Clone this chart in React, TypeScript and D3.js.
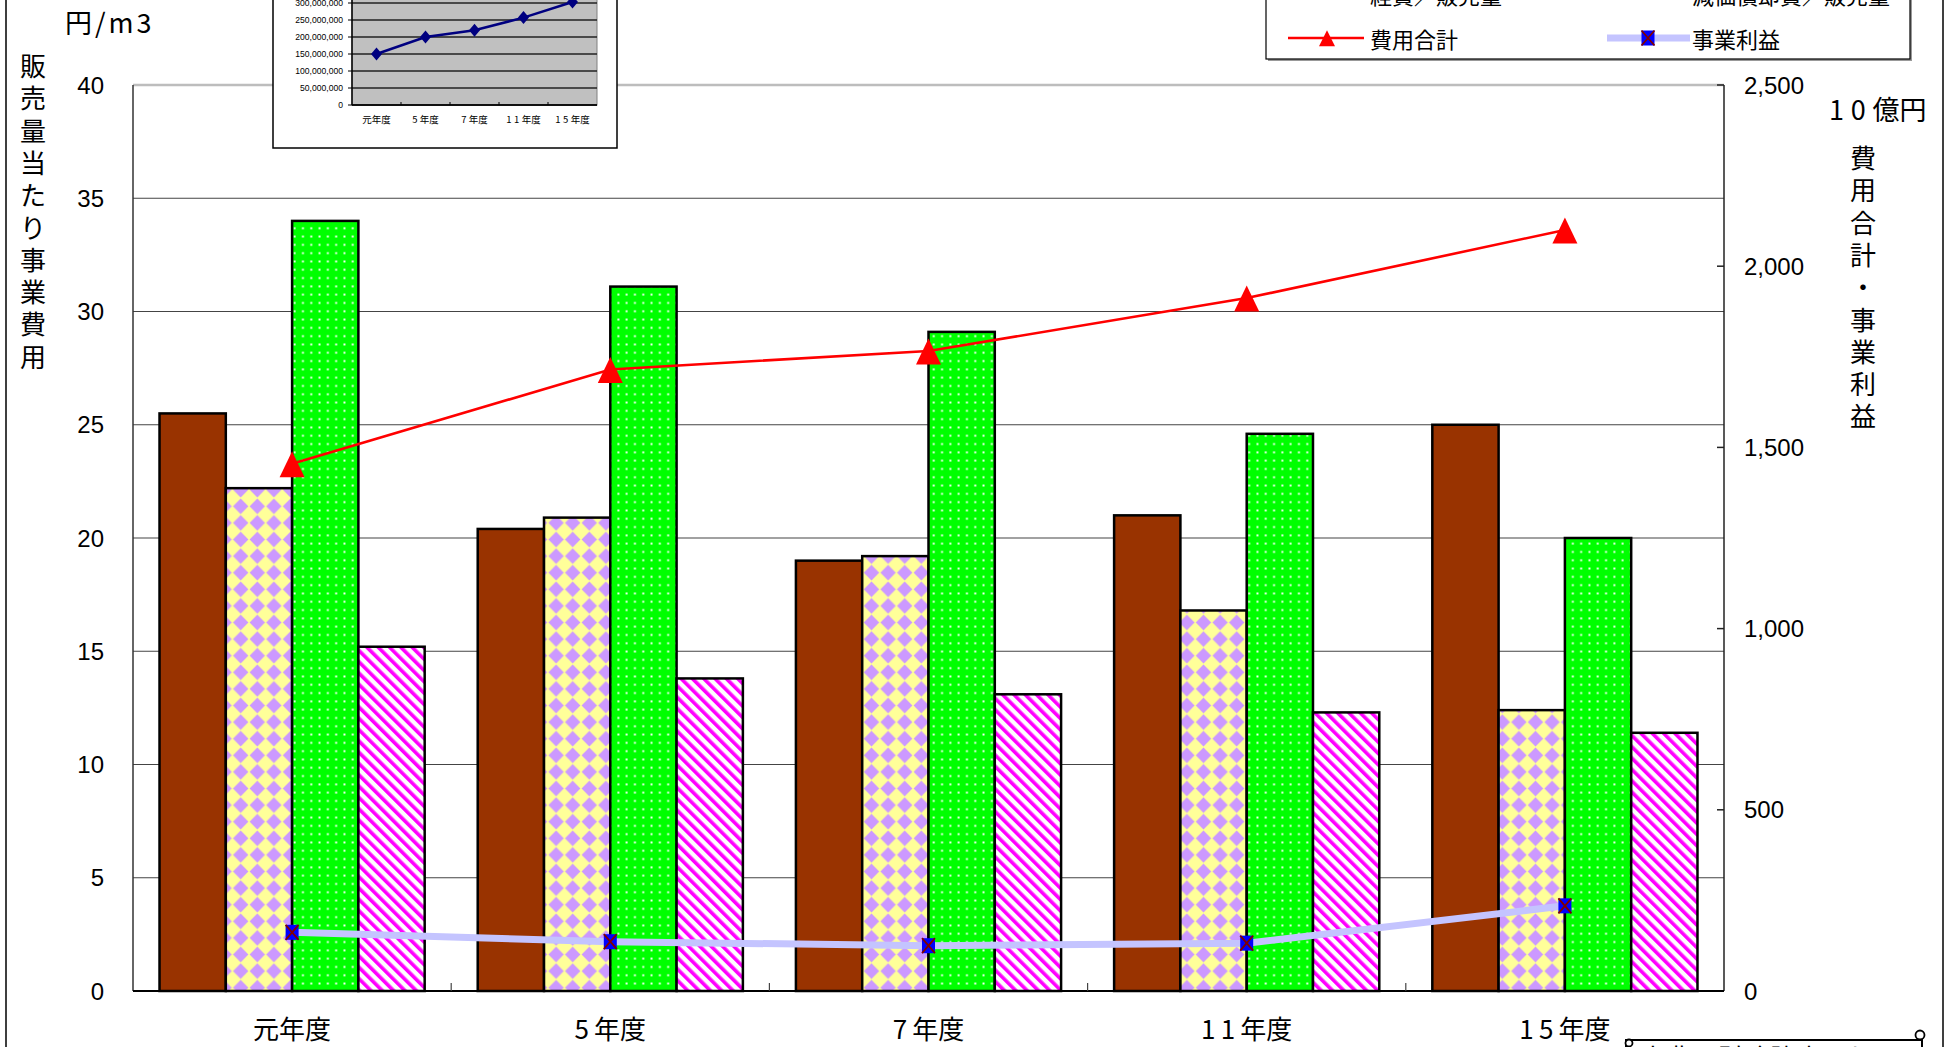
import React from "react";
import * as d3 from "d3";

// ---- data ----
const categories = ["元年度", "5年度", "7年度", "11年度", "15年度"];
const seriesKeys = ["jinkenhi", "shuzenhi", "keihi", "genka"];
const seriesNames = ["人件費／販売量", "修繕費／販売量", "経費／販売量", "減価償却費／販売量"];
const jinkenhiVals = [25.5, 20.4, 19.0, 21.0, 25.0];
const shuzenhiVals = [22.2, 20.9, 19.2, 16.8, 12.4];
const keihiVals = [34.0, 31.1, 29.1, 24.6, 20.0];
const genkaVals = [15.2, 13.8, 13.1, 12.3, 11.4];
const costTotalName = "費用合計";
const costTotalVals = [1455, 1715, 1766, 1912, 2100];
const profitName = "事業利益";
const profitVals = [162, 136, 125, 132, 235];
const leftTicks = [0, 5, 10, 15, 20, 25, 30, 35, 40];
const rightTicks = [0, 500, 1000, 1500, 2000, 2500];
const insetVals = [150e6, 200e6, 220e6, 257e6, 303e6];
const insetTicks = [0, 50e6, 100e6, 150e6, 200e6, 250e6, 300e6, 350e6];

const W = 1951;
const H = 1047;
const JP = "'Noto Sans CJK JP', 'Noto Sans', sans-serif";
const NUM = "'Liberation Sans', Arial, sans-serif";

const seriesValues = [jinkenhiVals, shuzenhiVals, keihiVals, genkaVals];
const seriesFills = ["#993300", "url(#pChk)", "url(#pDot)", "url(#pStripe)"];

// digits rendered slightly spaced, like the Japanese proportional font
function Spaced({ s, spacing }: { s: string; spacing: string }) {
  const parts = s.split(/(\d+)/).filter((p) => p.length);
  return (
    <>
      {parts.map((p, i) =>
        /\d/.test(p) ? (
          <tspan key={i} letterSpacing={spacing}>
            {p}
          </tspan>
        ) : (
          <tspan key={i}>{p}</tspan>
        )
      )}
    </>
  );
}

// one character per line, stacked top to bottom
function VerticalText({ s, x, y, step, size }: { s: string; x: number; y: number; step: number; size: number }) {
  return (
    <text x={x} y={y} textAnchor="middle" dominantBaseline="central" fontFamily={JP} fontSize={size} fill="#000">
      {Array.from(s).map((ch, i) => (
        <tspan key={i} x={x} y={y + i * step}>
          {ch}
        </tspan>
      ))}
    </text>
  );
}

function Triangle({ cx, cy, w, h }: { cx: number; cy: number; w: number; h: number }) {
  return (
    <path
      d={`M${cx},${cy - h * 0.48} L${cx + w / 2},${cy + h * 0.52} L${cx - w / 2},${cy + h * 0.52} Z`}
      fill="#FF0000"
    />
  );
}

function XSquare({ cx, cy }: { cx: number; cy: number }) {
  const w = 13;
  const h = 15;
  return (
    <g>
      <rect x={cx - w / 2} y={cy - h / 2} width={w} height={h} fill="#0000FF" />
      <path
        d={`M${cx - w / 2},${cy - h / 2} L${cx + w / 2},${cy + h / 2} M${cx + w / 2},${cy - h / 2} L${cx - w / 2},${cy + h / 2}`}
        stroke="#800000"
        strokeWidth={1.8}
      />
    </g>
  );
}

export default function App() {
  const plotL = 133;
  const plotR = 1724;
  const plotT = 85;
  const plotB = 991;

  const x0 = d3.scaleBand<string>().domain(categories).range([plotL, plotR]);
  const x1 = d3
    .scaleBand<string>()
    .domain(seriesKeys)
    .range([0, x0.bandwidth()])
    .paddingInner(0)
    .paddingOuter(0.4);
  const yL = d3.scaleLinear().domain([0, 40]).range([plotB, plotT]);
  const yR = d3.scaleLinear().domain([0, 2500]).range([plotB, plotT]);
  const cx = (c: string) => (x0(c) as number) + x0.bandwidth() / 2;

  const lineR = d3
    .line<number>()
    .x((_, i) => cx(categories[i]))
    .y((d) => yR(d));

  // inset chart scales
  const xi = d3.scaleBand<string>().domain(categories).range([352, 597]);
  const yi = d3.scaleLinear().domain([0, 350e6]).range([105, -14]);
  const lineI = d3
    .line<number>()
    .x((_, i) => (xi(categories[i]) as number) + xi.bandwidth() / 2)
    .y((d) => yi(d));
  const fmt = d3.format(",");

  const legendCols = [
    { sw: 1288, swW: 76, tx: 1370 },
    { sw: 1611, swW: 74, tx: 1692 },
  ];
  const legendRows = [-50, -6, 38];

  const D = 16.6; // diamond checker period

  return (
    <svg
      width={W}
      height={H}
      viewBox={`0 0 ${W} ${H}`}
      style={{ position: "absolute", left: 0, top: 0, display: "block", background: "#fff" }}
    >
      <defs>
        <pattern id="pChk" width={D} height={D} patternUnits="userSpaceOnUse">
          <rect width={D} height={D} fill="#FFFF99" />
          <path d={`M${D / 2},0.6 L${D - 0.6},${D / 2} L${D / 2},${D - 0.6} L0.6,${D / 2} Z`} fill="#CC99FF" />
        </pattern>
        <pattern id="pDot" width={8.3} height={8.3} patternUnits="userSpaceOnUse">
          <rect width={8.3} height={8.3} fill="#00FF00" />
          <rect x={3.2} y={3.2} width={1.9} height={1.9} fill="#FFFFFF" />
        </pattern>
        <pattern
          id="pStripe"
          width={8}
          height={8}
          patternUnits="userSpaceOnUse"
          patternTransform="rotate(-45)"
        >
          <rect width={8} height={8} fill="#FFFFFF" />
          <rect width={3.6} height={8} fill="#FF00FF" />
        </pattern>
      </defs>

      {/* chart frame */}
      <rect x={6} y={-20} width={1937} height={1100} fill="#fff" stroke="#000" strokeWidth={1.5} />

      {/* gridlines */}
      {leftTicks
        .filter((t) => t > 0 && t < 40)
        .map((t) => (
          <line key={t} x1={plotL} x2={plotR} y1={yL(t)} y2={yL(t)} stroke="#444" strokeWidth={1.2} />
        ))}
      <line x1={plotL} x2={plotR} y1={plotT} y2={plotT} stroke="#bdbdbd" strokeWidth={2.5} />

      {/* bars */}
      {categories.map((c, ci) => (
        <g key={c}>
          {seriesKeys.map((k, si) => {
            const v = seriesValues[si][ci];
            const bx = (x0(c) as number) + (x1(k) as number);
            return (
              <rect
                key={k}
                x={bx}
                y={yL(v)}
                width={x1.bandwidth()}
                height={plotB - yL(v)}
                fill={seriesFills[si]}
                stroke="#000"
                strokeWidth={2.5}
              />
            );
          })}
        </g>
      ))}

      {/* axes */}
      <line x1={plotL} x2={plotL} y1={plotT} y2={plotB} stroke="#333" strokeWidth={1.5} />
      <line x1={plotR} x2={plotR} y1={plotT} y2={plotB} stroke="#222" strokeWidth={1.5} />
      {rightTicks.map((t) => (
        <line key={t} x1={plotR - 7} x2={plotR} y1={yR(t)} y2={yR(t)} stroke="#222" strokeWidth={1.5} />
      ))}
      <line x1={plotL} x2={plotR} y1={plotB} y2={plotB} stroke="#000" strokeWidth={2.2} />
      {categories.slice(1).map((c) => (
        <line
          key={c}
          x1={x0(c) as number}
          x2={x0(c) as number}
          y1={plotB}
          y2={plotB - 8}
          stroke="#444"
          strokeWidth={1.2}
        />
      ))}

      {/* profit line (right axis) */}
      <path d={lineR(profitVals) || ""} fill="none" stroke="#C4C4FF" strokeWidth={7} />
      {profitVals.map((v, i) => (
        <XSquare key={i} cx={cx(categories[i])} cy={yR(v)} />
      ))}

      {/* cost total line (right axis) */}
      <path d={lineR(costTotalVals) || ""} fill="none" stroke="#FF0000" strokeWidth={2.6} />
      {costTotalVals.map((v, i) => (
        <Triangle key={i} cx={cx(categories[i])} cy={yR(v)} w={25} h={26} />
      ))}

      {/* left tick labels */}
      {leftTicks.map((t) => (
        <text
          key={t}
          x={104}
          y={yL(t)}
          textAnchor="end"
          dominantBaseline="central"
          fontFamily={NUM}
          fontSize={24}
          fill="#000"
        >
          {t}
        </text>
      ))}
      {/* right tick labels */}
      {rightTicks.map((t) => (
        <text
          key={t}
          x={1744}
          y={yR(t)}
          textAnchor="start"
          dominantBaseline="central"
          fontFamily={NUM}
          fontSize={24}
          fill="#000"
        >
          {fmt(t)}
        </text>
      ))}

      {/* category labels */}
      {categories.map((c) => (
        <text
          key={c}
          x={cx(c)}
          y={1027}
          textAnchor="middle"
          dominantBaseline="central"
          fontFamily={JP}
          fontSize={26}
          fill="#000"
        >
          <Spaced s={c} spacing="0.2em" />
        </text>
      ))}

      {/* axis titles */}
      <text x={65} y={21} dominantBaseline="central" fontFamily={JP} fontSize={27} fill="#000" letterSpacing={3}>
        円/m3
      </text>
      <VerticalText s="販売量当たり事業費用" x={33} y={64} step={32.3} size={26} />
      <text x={1829} y={108} dominantBaseline="central" fontFamily={JP} fontSize={27} fill="#000">
        <Spaced s="10億円" spacing="0.25em" />
      </text>
      <VerticalText s="費用合計・事業利益" x={1863} y={156} step={32.3} size={26} />

      {/* legend */}
      <rect x={1268} y={-98} width={644} height={159} fill="#999" />
      <rect x={1266} y={-100} width={644} height={159} fill="#fff" stroke="#000" strokeWidth={1.2} />
      {seriesNames.map((name, i) => {
        const col = legendCols[i % 2];
        const ry = legendRows[Math.floor(i / 2)];
        return (
          <g key={name}>
            <rect
              x={col.sw}
              y={ry - 9}
              width={col.swW}
              height={10}
              fill={seriesFills[i]}
              stroke="#000"
              strokeWidth={2.5}
            />
            <text x={col.tx} y={ry} dominantBaseline="central" fontFamily={JP} fontSize={22} fill="#000">
              {name}
            </text>
          </g>
        );
      })}
      <g>
        <line x1={1288} x2={1364} y1={legendRows[2]} y2={legendRows[2]} stroke="#FF0000" strokeWidth={2.6} />
        <Triangle cx={1327} cy={legendRows[2]} w={16} h={16} />
        <text x={1370} y={legendRows[2]} dominantBaseline="central" fontFamily={JP} fontSize={22} fill="#000">
          {costTotalName}
        </text>
        <line x1={1607} x2={1690} y1={legendRows[2]} y2={legendRows[2]} stroke="#C4C4FF" strokeWidth={7} />
        <XSquare cx={1648} cy={legendRows[2]} />
        <text x={1692} y={legendRows[2]} dominantBaseline="central" fontFamily={JP} fontSize={22} fill="#000">
          {profitName}
        </text>
      </g>

      {/* inset chart */}
      <rect x={273} y={-60} width={344} height={208} fill="#fff" stroke="#000" strokeWidth={1.5} />
      <rect x={352} y={yi(350e6)} width={245} height={105 - yi(350e6)} fill="#C0C0C0" stroke="#808080" strokeWidth={1} />
      {insetTicks.map((t) => (
        <g key={t}>
          <line x1={352} x2={597} y1={yi(t)} y2={yi(t)} stroke="#222" strokeWidth={1.3} />
          <line x1={348} x2={352} y1={yi(t)} y2={yi(t)} stroke="#000" strokeWidth={1} />
          <text
            x={343}
            y={yi(t)}
            textAnchor="end"
            dominantBaseline="central"
            fontFamily={NUM}
            fontSize={8.6}
            fill="#000"
          >
            {fmt(t)}
          </text>
        </g>
      ))}
      <line x1={352} x2={352} y1={yi(350e6)} y2={105} stroke="#000" strokeWidth={1.5} />
      <line x1={352} x2={597} y1={105} y2={105} stroke="#000" strokeWidth={1.5} />
      {categories.slice(1).map((c) => (
        <line
          key={c}
          x1={xi(c) as number}
          x2={xi(c) as number}
          y1={105}
          y2={102}
          stroke="#000"
          strokeWidth={1}
        />
      ))}
      <path d={lineI(insetVals) || ""} fill="none" stroke="#000080" strokeWidth={2.5} />
      {insetVals.map((v, i) => {
        const px = (xi(categories[i]) as number) + xi.bandwidth() / 2;
        const py = yi(v);
        return (
          <path
            key={i}
            d={`M${px},${py - 6.5} L${px + 5.5},${py} L${px},${py + 6.5} L${px - 5.5},${py} Z`}
            fill="#000080"
          />
        );
      })}
      {categories.map((c) => (
        <text
          key={c}
          x={(xi(c) as number) + xi.bandwidth() / 2}
          y={119}
          textAnchor="middle"
          dominantBaseline="central"
          fontFamily={JP}
          fontSize={9.5}
          fill="#000"
        >
          <Spaced s={c} spacing="0.25em" />
        </text>
      ))}

      {/* source note scroll */}
      <g>
        <rect x={1626} y={1040} width={296} height={60} fill="#fff" stroke="#000" strokeWidth={2} />
        <circle cx={1920} cy={1035} r={4.5} fill="#fff" stroke="#000" strokeWidth={1.8} />
        <circle cx={1629} cy={1043} r={3.5} fill="#fff" stroke="#000" strokeWidth={1.8} />
        <text x={1640} y={1068} fontFamily={JP} fontSize={26} fill="#000">
          出典：財務諸表より
        </text>
      </g>
    </svg>
  );
}
